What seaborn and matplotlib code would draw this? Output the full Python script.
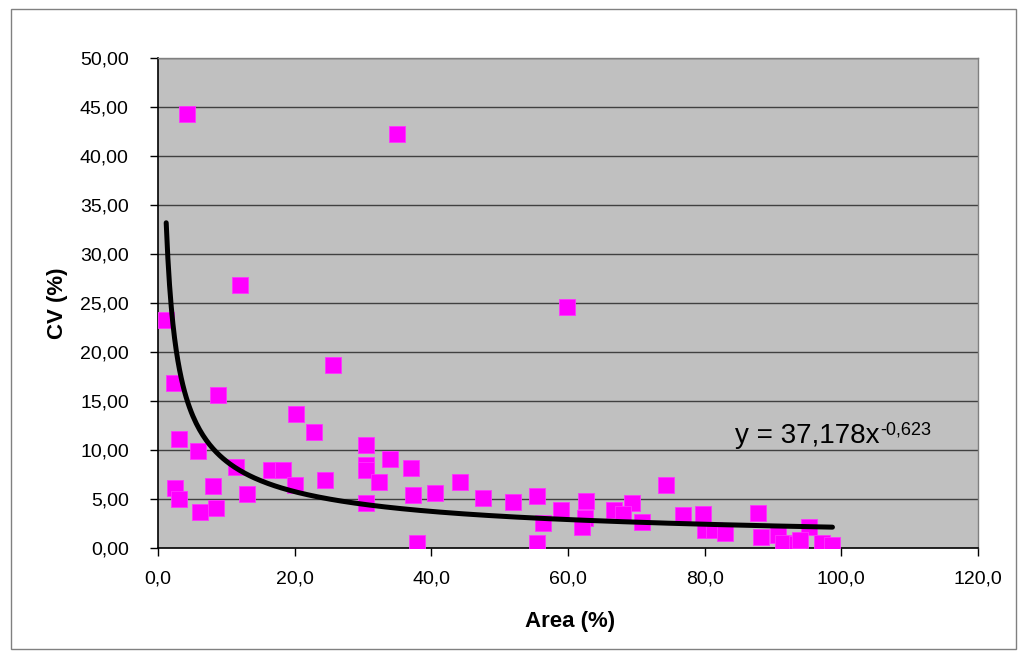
import numpy as np
import pandas as pd
import matplotlib
matplotlib.use("Agg")
import matplotlib.pyplot as plt
from matplotlib.ticker import FuncFormatter, MultipleLocator
from matplotlib.patches import Rectangle
import seaborn as sns

# ---- data ----
area = [1.2, 4.3, 35.0, 12.0, 2.4, 8.8, 25.6, 20.2, 22.9, 3.1,
        5.8, 30.5, 33.9, 30.5, 30.5, 37.0, 11.4, 16.5, 18.3, 2.5,
        3.1, 8.0, 13.0, 20.1, 24.4, 32.3, 6.2, 8.5, 30.4, 37.3,
        37.9, 40.5, 59.8, 44.2, 47.6, 52.0, 55.5, 56.4, 55.5, 59.0,
        62.6, 62.5, 62.1, 66.8, 69.3, 68.1, 70.9, 74.3, 76.9, 79.7,
        80.1, 81.3, 83.0, 87.8, 88.2, 90.8, 91.4, 93.5, 95.3, 94.0,
        97.2, 98.7]
cv = [23.3, 44.3, 42.2, 26.8, 16.8, 15.6, 18.7, 13.7, 11.8, 11.1,
      9.9, 10.5, 9.05, 8.5, 8.0, 8.2, 8.3, 8.0, 8.0, 6.1,
      5.0, 6.3, 5.5, 6.4, 6.9, 6.7, 3.7, 4.05, 4.6, 5.4,
      0.5, 5.6, 24.6, 6.7, 5.1, 4.7, 5.3, 2.6, 0.5, 3.9,
      4.8, 3.1, 2.1, 3.9, 4.6, 3.5, 2.7, 6.4, 3.4, 3.5,
      1.8, 1.8, 1.5, 3.6, 1.1, 1.3, 0.5, 0.4, 2.1, 0.8,
      0.5, 0.3]

# power trendline printed on the chart: y = a * x^b
trend_a = 37.178
trend_b = -0.623
equation_main = "y = 37,178x"
equation_exp = "-0,623"

x_label = "Area (%)"
y_label = "CV (%)"

df = pd.DataFrame({"area": area, "cv": cv})
tx = np.linspace(min(area), max(area), 400)
trend = pd.DataFrame({"area": tx, "cv": trend_a * tx ** trend_b})

# ---- drawing ----
sns.set_theme(style="white")
plt.rcParams["font.family"] = ["Liberation Sans", "DejaVu Sans"]

fig = plt.figure(figsize=(10.26, 6.57), dpi=100)
fig.patch.set_facecolor("white")
ax = fig.add_axes([158 / 1026, 1 - 548 / 657, 820 / 1026, 490 / 657])
ax.set_facecolor("#C0C0C0")

sns.scatterplot(data=df, x="area", y="cv", ax=ax, marker="s", s=120,
                color="#FF00FF", edgecolor="#FF33FF", linewidth=0.6,
                zorder=3, legend=False)
sns.lineplot(data=trend, x="area", y="cv", ax=ax, color="black",
             linewidth=3.6, zorder=4, sort=True, estimator=None)

ax.set_xlim(0, 120)
ax.set_ylim(0, 50)
ax.xaxis.set_major_locator(MultipleLocator(20))
ax.yaxis.set_major_locator(MultipleLocator(5))
ax.xaxis.set_major_formatter(FuncFormatter(lambda v, p: f"{v:.1f}".replace(".", ",")))
ax.yaxis.set_major_formatter(FuncFormatter(lambda v, p: f"{v:.2f}".replace(".", ",")))

ax.grid(False)
for yv in np.arange(5, 50.1, 5):
    ax.axhline(yv, color="#404040", linewidth=1.0, zorder=1)

for s in ["top", "right"]:
    ax.spines[s].set_color("#808080")
    ax.spines[s].set_linewidth(1.0)
for s in ["left", "bottom"]:
    ax.spines[s].set_color("black")
    ax.spines[s].set_linewidth(1.2)

ax.tick_params(axis="y", which="major", direction="out", length=6, width=1,
               color="black", pad=15, labelsize=14, labelcolor="black", left=True)
ax.tick_params(axis="x", which="major", direction="out", length=6, width=1,
               color="black", pad=10, labelsize=14, labelcolor="black", bottom=True)

ax.set_xlabel(x_label, fontsize=16, fontweight="bold", color="black")
ax.set_ylabel(y_label, fontsize=16, fontweight="bold", color="black")
ax.xaxis.set_label_coords((570 - 158) / 820, (548 - 622) / 490)
ax.xaxis.label.set_va("center")
ax.yaxis.set_label_coords((57 - 158) / 820, (548 - 303) / 490)
ax.yaxis.label.set_va("center")

main_txt = ax.text(84.4, 10.7, equation_main, fontsize=20, color="black",
                   ha="left", va="baseline", zorder=5)
ax.annotate(equation_exp, xy=(1, 1), xycoords=main_txt,
            xytext=(1, 1), textcoords="offset points",
            ha="left", va="top", fontsize=13, color="black", zorder=5)

fig.patches.append(Rectangle((11 / 1026, 8 / 657), 1005 / 1026, 640 / 657,
                             transform=fig.transFigure, fill=False,
                             edgecolor="#808080", linewidth=1.0))

fig.savefig("out.png", dpi=100)
